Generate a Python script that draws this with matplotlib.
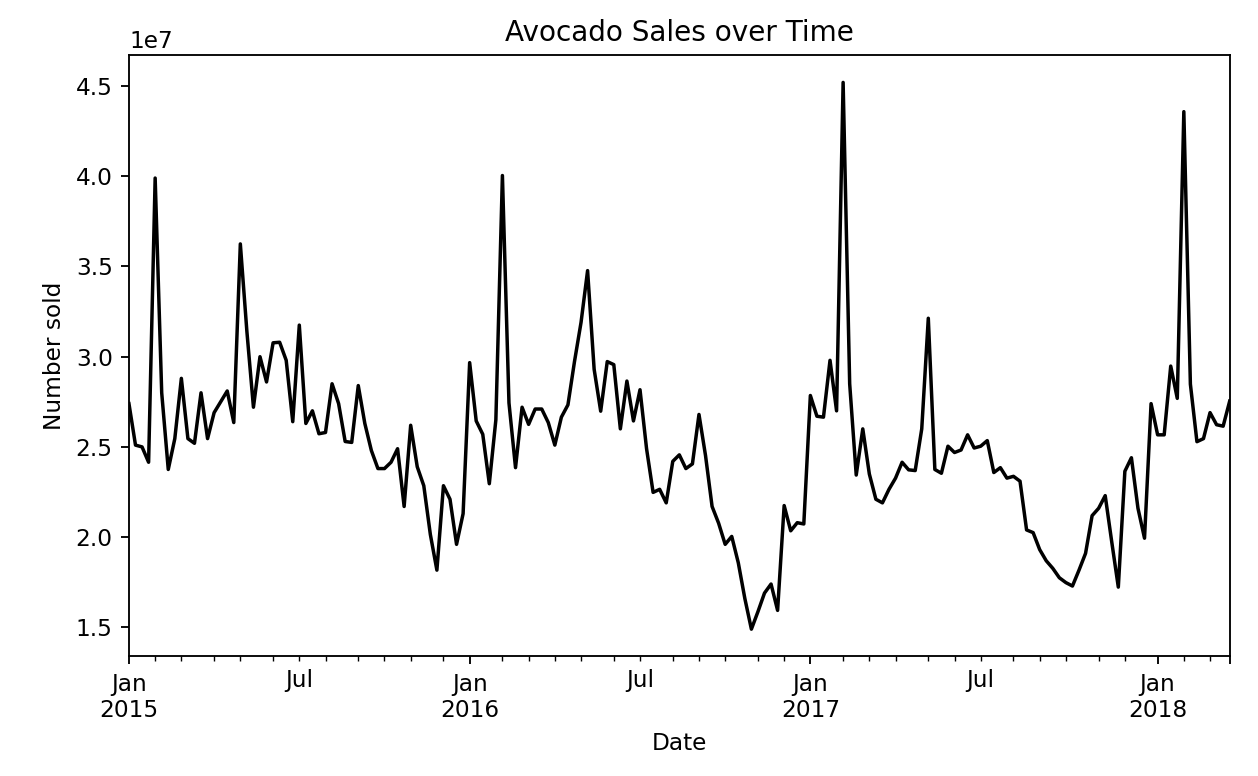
import numpy as np
import pandas as pd
import matplotlib
matplotlib.use("Agg")
import matplotlib.pyplot as plt

# weekly total volume, in units of 1e7
start_date = "2015-01-04"
volume_1e7 = [
    2.74, 2.51, 2.50, 2.415, 3.99, 2.80, 2.375, 2.546, 2.88, 2.546,
    2.52, 2.80, 2.546, 2.69, 2.75, 2.81, 2.635, 3.625, 3.14, 2.72,
    3.00, 2.86, 3.077, 3.08, 2.98, 2.64, 3.175, 2.63, 2.70, 2.573,
    2.58, 2.85, 2.74, 2.53, 2.525, 2.84, 2.63, 2.48, 2.38, 2.38,
    2.415, 2.49, 2.17, 2.62, 2.39, 2.285, 2.015, 1.817, 2.285, 2.21,
    1.96, 2.13, 2.967, 2.644, 2.57, 2.296, 2.65, 4.004, 2.744, 2.385,
    2.72, 2.625, 2.71, 2.71, 2.635, 2.51, 2.665, 2.733, 2.973, 3.19,
    3.477, 2.93, 2.698, 2.973, 2.956, 2.60, 2.865, 2.644, 2.817, 2.49,
    2.248, 2.265, 2.19, 2.42, 2.456, 2.38, 2.406, 2.68, 2.452, 2.17,
    2.077, 1.96, 2.004, 1.858, 1.66, 1.49, 1.587, 1.69, 1.74, 1.594,
    2.175, 2.035, 2.08, 2.073, 2.785, 2.67, 2.665, 2.98, 2.70, 4.52,
    2.85, 2.344, 2.60, 2.35, 2.21, 2.19, 2.265, 2.327, 2.415, 2.373,
    2.369, 2.60, 3.213, 2.375, 2.354, 2.504, 2.469, 2.483, 2.567, 2.494,
    2.504, 2.535, 2.358, 2.385, 2.327, 2.337, 2.31, 2.04, 2.025, 1.931,
    1.869, 1.827, 1.775, 1.748, 1.729, 1.817, 1.91, 2.119, 2.16, 2.23,
    1.973, 1.723, 2.365, 2.44, 2.16, 1.994, 2.74, 2.567, 2.567, 2.948,
    2.769, 4.358, 2.848, 2.529, 2.546, 2.69, 2.623, 2.615, 2.754,
]

dates = pd.date_range(start_date, periods=len(volume_1e7), freq="W")
sales = pd.Series(np.array(volume_1e7) * 1e7, index=dates)

DPI = 167
fig = plt.figure(figsize=(1258 / DPI, 776 / DPI), dpi=DPI)
ax = fig.add_axes([0.1025, 0.154, 0.875, 0.775])
sales.plot(ax=ax, color="black", linewidth=1.5)
ax.set_title("Avocado Sales over Time")
ax.set_xlabel("Date")
ax.set_ylabel("Number sold")
fig.savefig("out.png", dpi=DPI)
